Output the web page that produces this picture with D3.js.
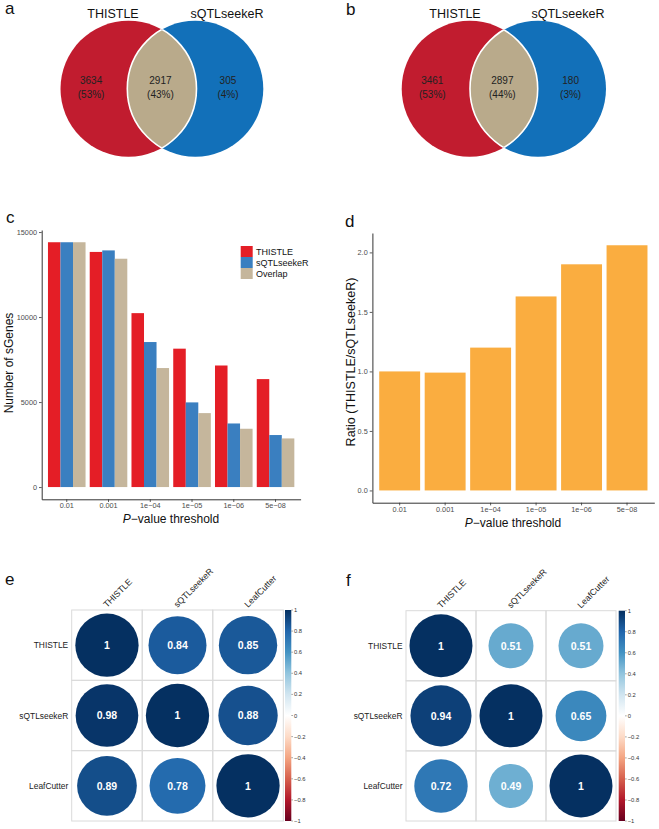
<!DOCTYPE html>
<html><head><meta charset="utf-8">
<script src="https://cdn.jsdelivr.net/npm/d3@7"></script>
<style>body{margin:0;background:#fff} text{font-family:"Liberation Sans",Arial,Helvetica,sans-serif}</style>
</head><body><svg id="chart" width="659" height="829"></svg>
<script>
// ---------- data ----------
const vennNames = ["THISTLE", "sQTLseekeR"];
const vennCountsA = [3634, 2917, 305];
const vennPctA = ["53%", "43%", "4%"];
const vennCountsB = [3461, 2897, 180];
const vennPctB = ["53%", "44%", "3%"];

const thresholds = ["0.01", "0.001", "1e-04", "1e-05", "1e-06", "5e-08"];
const seriesNames = ["THISTLE", "sQTLseekeR", "Overlap"];
const thistleCounts = [14400, 13830, 10230, 8140, 7150, 6350];
const sqtlCounts = [14400, 13920, 8530, 4980, 3740, 3060];
const overlapCounts = [14400, 13430, 7000, 4350, 3430, 2860];
const countTicks = [0, 5000, 10000, 15000];
const ratios = [1.0, 0.99, 1.2, 1.63, 1.9, 2.06];
const ratioTicks = [0, 0.5, 1.0, 1.5, 2.0];

const methods = ["THISTLE", "sQTLseekeR", "LeafCutter"];
const corrE = [[1, 0.84, 0.85], [0.98, 1, 0.88], [0.89, 0.78, 1]];
const corrF = [[1, 0.51, 0.51], [0.94, 1, 0.65], [0.72, 0.49, 1]];
const legendTicks = [1, 0.8, 0.6, 0.4, 0.2, 0, -0.2, -0.4, -0.6, -0.8, -1];

// ---------- setup ----------
const svg = d3.select("#chart");
svg.append("rect").attr("width", 659).attr("height", 829).attr("fill", "#fff");
const defs = svg.append("defs");
const minus = s => String(s).replace(/-/g, "\u2212");

function panelLetter(x, y, t) {
  svg.append("text").attr("x", x).attr("y", y).attr("font-size", 17).attr("fill", "#111").text(t);
}

// ---------- Venn ----------
const vennColors = ["#C11C2F", "#1270B9", "#B9AA8B"];
function venn(id, cx1, cx2, cy, r, counts, pcts, labelX) {
  const g = svg.append("g");
  defs.append("clipPath").attr("id", "clipL" + id).append("circle").attr("cx", cx1).attr("cy", cy).attr("r", r);
  defs.append("clipPath").attr("id", "clipR" + id).append("circle").attr("cx", cx2).attr("cy", cy).attr("r", r);
  g.append("circle").attr("cx", cx1).attr("cy", cy).attr("r", r).attr("fill", vennColors[0]);
  g.append("circle").attr("cx", cx2).attr("cy", cy).attr("r", r).attr("fill", vennColors[1]);
  g.append("circle").attr("cx", cx2).attr("cy", cy).attr("r", r).attr("fill", vennColors[2]).attr("clip-path", `url(#clipL${id})`);
  g.append("circle").attr("cx", cx2).attr("cy", cy).attr("r", r).attr("fill", "none").attr("stroke", "#fff").attr("stroke-width", 1.6).attr("clip-path", `url(#clipL${id})`);
  g.append("circle").attr("cx", cx1).attr("cy", cy).attr("r", r).attr("fill", "none").attr("stroke", "#fff").attr("stroke-width", 1.6).attr("clip-path", `url(#clipR${id})`);
  const xs = [cx1 - r * 0.55, (cx1 + cx2) / 2 - 1.5, cx2 + r * 0.48];
  counts.forEach((c, i) => {
    g.append("text").attr("x", xs[i]).attr("y", cy - 5).attr("text-anchor", "middle").attr("font-size", 10).attr("fill", "#222").text(c);
    g.append("text").attr("x", xs[i]).attr("y", cy + 9).attr("text-anchor", "middle").attr("font-size", 10).attr("fill", "#222").text("(" + pcts[i] + ")");
  });
  vennNames.forEach((n, i) => {
    g.append("text").attr("x", labelX[i]).attr("y", 18).attr("text-anchor", "middle").attr("font-size", 12.5).attr("fill", "#111").text(n);
  });
}
venn("a", 128.5, 195.3, 88.7, 68, vennCountsA, vennPctA, [113, 227]);
venn("b", 469.7, 538, 88.7, 68, vennCountsB, vennPctB, [455, 568]);
panelLetter(5, 14, "a");
panelLetter(346, 15, "b");

// ---------- axis helper ----------
function styleAxis(ax) {
  ax.select(".domain").attr("stroke", "#333").attr("stroke-width", 1);
  ax.selectAll(".tick line").attr("stroke", "#333").attr("stroke-width", 0.8);
  ax.selectAll(".tick text").attr("fill", "#4D4D4D").attr("font-size", 7.3)
    .attr("font-family", '"Liberation Sans",Arial,sans-serif');
}
function axisTitleP(x, y) {
  const t = svg.append("text").attr("x", x).attr("y", y).attr("text-anchor", "middle").attr("font-size", 12).attr("fill", "#111");
  t.append("tspan").attr("font-style", "italic").text("P");
  t.append("tspan").text("\u2212value threshold");
}

// ---------- panel c ----------
{
  const allVals = thistleCounts.concat(sqtlCounts, overlapCounts);
  const mx = d3.max(allVals);
  const x0 = d3.scaleBand().domain(thresholds).range([41.7, 300.6]).paddingInner(0.1).paddingOuter(0.15);
  const x1 = d3.scaleBand().domain(seriesNames).range([0, x0.bandwidth()]);
  const y = d3.scaleLinear().domain([-0.05 * mx, 1.05 * mx]).range([499.3, 230]);
  const colors = d3.scaleOrdinal().domain(seriesNames).range(["#E41E26", "#3A7FC0", "#C5B69C"]);
  const series = [thistleCounts, sqtlCounts, overlapCounts];
  const g = svg.append("g");
  thresholds.forEach((t, i) => {
    seriesNames.forEach((s, j) => {
      g.append("rect").attr("x", x0(t) + x1(s)).attr("width", x1.bandwidth())
        .attr("y", y(series[j][i])).attr("height", y(0) - y(series[j][i])).attr("fill", colors(s));
    });
  });
  const ay = svg.append("g").attr("transform", "translate(41.7,0)")
    .call(d3.axisLeft(y).tickValues(countTicks).tickSize(2.7).tickSizeOuter(0).tickPadding(2).tickFormat(d3.format("d")));
  styleAxis(ay);
  const ax = svg.append("g").attr("transform", "translate(0,499.3)")
    .call(d3.axisBottom(x0).tickSize(2.7).tickSizeOuter(0).tickPadding(1.2).tickFormat(minus));
  styleAxis(ax);
  axisTitleP(171, 523);
  svg.append("text").attr("transform", "translate(13,363) rotate(-90)").attr("text-anchor", "middle")
    .attr("font-size", 12).attr("fill", "#111").text("Number of sGenes");
  // legend
  seriesNames.forEach((s, j) => {
    const yy = 246 + j * 11;
    svg.append("rect").attr("x", 240.7).attr("y", yy).attr("width", 12).attr("height", 11).attr("fill", colors(s));
    svg.append("text").attr("x", 256).attr("y", yy + 8.8).attr("font-size", 9).attr("fill", "#111").text(s);
  });
  panelLetter(6, 223, "c");
}

// ---------- panel d ----------
{
  const mx = d3.max(ratios);
  const x = d3.scaleBand().domain(thresholds).range([372.4, 654.3]).paddingInner(0.1).paddingOuter(0.15);
  const y = d3.scaleLinear().domain([-0.05 * mx, 1.05 * mx]).range([502.7, 233]);
  svg.append("g").selectAll("rect").data(ratios).join("rect")
    .attr("x", (d, i) => x(thresholds[i])).attr("width", x.bandwidth())
    .attr("y", d => y(d)).attr("height", d => y(0) - y(d)).attr("fill", "#FAAD40");
  const ay = svg.append("g").attr("transform", "translate(372.4,0)")
    .call(d3.axisLeft(y).tickValues(ratioTicks).tickSize(2.7).tickSizeOuter(0).tickPadding(2).tickFormat(d3.format(".1f")));
  styleAxis(ay);
  const ax = svg.append("g").attr("transform", "translate(0,502.7)")
    .call(d3.axisBottom(x).tickSize(2.7).tickSizeOuter(0).tickPadding(1.2).tickFormat(minus));
  styleAxis(ax);
  axisTitleP(513, 526.5);
  svg.append("text").attr("transform", "translate(355,362) rotate(-90)").attr("text-anchor", "middle")
    .attr("font-size", 12.5).attr("fill", "#111").text("Ratio (THISTLE/sQTLseekeR)");
  panelLetter(345, 226.5, "d");
}

// ---------- corrplots ----------
const rdbu = ["#67001F", "#B2182B", "#D6604D", "#F4A582", "#FDDBC7", "#FFFFFF", "#D1E5F0", "#92C5DE", "#4393C3", "#2166AC", "#053061"];
const corrColor = d3.scaleLinear().domain(d3.range(11).map(i => -1 + i * 0.2)).range(rdbu).interpolate(d3.interpolateRgb);
const grad = defs.append("linearGradient").attr("id", "cbar").attr("x1", 0).attr("y1", 1).attr("x2", 0).attr("y2", 0);
rdbu.forEach((c, i) => grad.append("stop").attr("offset", i / 10).attr("stop-color", c));

function corrplot(mat, x0, x1, y0, y1, barX, letterPos, letter) {
  const g = svg.append("g");
  const xs = d3.scaleBand().domain(methods).range([x0, x1]);
  const ys = d3.scaleBand().domain(methods).range([y0, y1]);
  const rad = d3.scaleSqrt().domain([0, 1]).range([0, 0.45 * Math.min(xs.bandwidth(), ys.bandwidth())]);
  methods.forEach((rn, i) => {
    methods.forEach((cn, j) => {
      g.append("rect").attr("x", xs(cn)).attr("y", ys(rn)).attr("width", xs.bandwidth()).attr("height", ys.bandwidth())
        .attr("fill", "none").attr("stroke", "#DADADA").attr("stroke-width", 1);
    });
  });
  methods.forEach((rn, i) => {
    methods.forEach((cn, j) => {
      const v = mat[i][j];
      const cx = xs(cn) + xs.bandwidth() / 2, cy = ys(rn) + ys.bandwidth() / 2;
      g.append("circle").attr("cx", cx).attr("cy", cy).attr("r", rad(Math.abs(v))).attr("fill", corrColor(v));
      g.append("text").attr("x", cx).attr("y", cy + 3.8).attr("text-anchor", "middle").attr("font-size", 10.5)
        .attr("font-weight", "bold").attr("fill", "#fff").text(v);
    });
    g.append("text").attr("x", x0 - 3.5).attr("y", ys(rn) + ys.bandwidth() / 2 + 3).attr("text-anchor", "end")
      .attr("font-size", 8.4).attr("fill", "#222").text(rn);
    const cx = xs(rn) + xs.bandwidth() / 2;
    g.append("text").attr("transform", `translate(${cx},${y0 - 2}) rotate(-45)`).attr("font-size", 8.8)
      .attr("fill", "#222").text(rn);
  });
  // colour legend
  const ly = d3.scaleLinear().domain([-1, 1]).range([y1, y0]);
  g.append("rect").attr("x", barX).attr("y", y0).attr("width", 6.3).attr("height", y1 - y0).attr("fill", "url(#cbar)");
  legendTicks.forEach(t => {
    g.append("line").attr("x1", barX + 6.3).attr("x2", barX + 8).attr("y1", ly(t)).attr("y2", ly(t)).attr("stroke", "#555").attr("stroke-width", 0.5);
    g.append("text").attr("x", barX + 9).attr("y", ly(t) + 2).attr("font-size", 5.8).attr("fill", "#333").text(minus(t));
  });
  panelLetter(letterPos[0], letterPos[1], letter);
}
corrplot(corrE, 71.7, 283.3, 610, 821, 285, [5, 585], "e");
corrplot(corrF, 406, 616, 610.7, 821, 618.7, [346, 586], "f");
</script></body></html>
